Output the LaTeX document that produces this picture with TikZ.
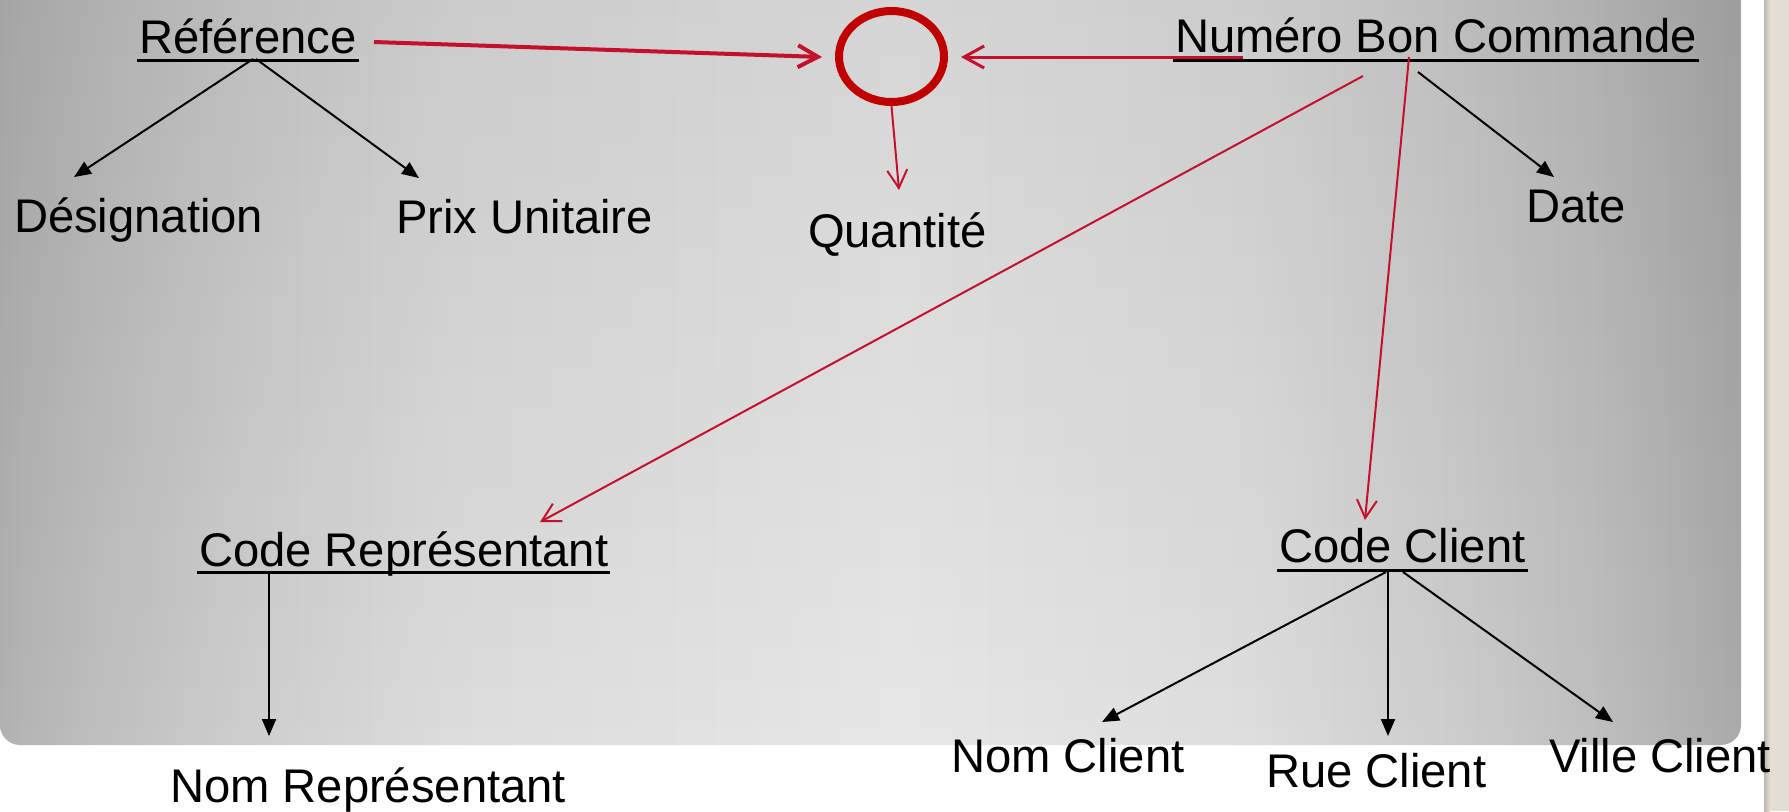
\documentclass[tikz,border=0pt]{standalone}
\usepackage{fontspec}
\setmainfont{Liberation Sans}
\usetikzlibrary{arrows.meta,shapes.geometric,calc,fadings}

% palette
\definecolor{circred}{HTML}{C00000}
\definecolor{linkred}{HTML}{C4102C}
\definecolor{stripbeige}{HTML}{E3DDD3}
\definecolor{stripshadow}{HTML}{BDB7AD}
\definecolor{panelA}{HTML}{B2B2B2}
\definecolor{panelB}{HTML}{BFBFBF}
\definecolor{panelC}{HTML}{CECECE}
\definecolor{panelD}{HTML}{DCDCDC}
\definecolor{panelE}{HTML}{E7E7E7}
\definecolor{panelF}{HTML}{DDDDDD}
\definecolor{panelG}{HTML}{CDCDCD}
\definecolor{panelH}{HTML}{BEBEBE}
\definecolor{panelI}{HTML}{AAAAAA}

% light centre, darker left and right borders of the slide panel
\pgfdeclarehorizontalshading{panelglow}{100bp}{%
  color(0bp)=(panelA); color(25bp)=(panelA); color(27.87bp)=(panelB);
  color(32.18bp)=(panelC); color(37.92bp)=(panelD); color(50.85bp)=(panelE);
  color(60.9bp)=(panelF); color(66.64bp)=(panelG); color(70.95bp)=(panelH);
  color(75bp)=(panelI); color(100bp)=(panelI)}
\tikzfading[name=topdarken, top color=transparent!0, bottom color=transparent!100]

\tikzset{
  lbl/.style={anchor=base west, inner sep=0pt, outer sep=0pt,
    font=\fontsize{23.6pt}{28pt}\selectfont},
  uline/.style={line width=1.5pt},
  blk/.style={line width=1pt, -{Triangle[length=8.5pt,width=7pt]}},
  redthin/.style={linkred, line width=1pt, -{Straight Barb[length=9pt,width=10pt]}},
  redthick/.style={linkred, line width=2pt, -{Straight Barb[length=10pt,width=11pt]}},
  redmid/.style={linkred, line width=1.5pt, -{Straight Barb[length=10pt,width=11pt]}},
}

\begin{document}
\begin{tikzpicture}[x=0.5pt, y=-0.5pt]
  \useasboundingbox (0,0) rectangle (1789,811);
  \fill[white] (0,0) rectangle (1789,811);

  % slide panel
  \begin{scope}
    \clip[rounded corners=10pt] (0,-40) rectangle (1741,745);
    \shade[shading=panelglow] (0,-40) rectangle (1741,745);
    \fill[black, opacity=0.08, path fading=topdarken] (0,-40) rectangle (1741,745);
  \end{scope}

  % side strip
  \fill[stripbeige] (1764,0) rectangle (1789,811);
  \shade[left color=stripshadow, right color=stripbeige] (1764,0) rectangle (1770,811);

  % attributes
  \node[lbl] (ref)  at (139,53)   {Référence};
  \node[lbl] (des)  at (14,232)   {Désignation};
  \node[lbl] (prix) at (396,233)  {Prix Unitaire};
  \node[lbl] (qte)  at (808,247)  {Quantité};
  \node[lbl] (nbc)  at (1175,52)  {Numéro Bon Commande};
  \node[lbl] (date) at (1526,222) {Date};
  \node[lbl] (crep) at (199,566)  {Code Représentant};
  \node[lbl] (cli)  at (1279,562) {Code Client};
  \node[lbl] (nrep) at (170,802)  {Nom Représentant};
  \node[lbl] (ncli) at (951,772)  {Nom Client};
  \node[lbl] (rcli) at (1266,787) {Rue Client};
  \node[lbl] (vcli) at (1549,772) {Ville Client};

  % identifiers are underlined
  \foreach \k/\d in {ref/7.5, nbc/8, crep/6.5, cli/8}
    \draw[uline] ($(\k.base west)+(-2,\d)$) -- ($(\k.base east)+(2,\d)$);

  % association circle
  \node[ellipse, draw=circred, line width=4pt, minimum width=52.5pt,
        minimum height=45.5pt, inner sep=0pt] (assoc) at (891.5,56.5) {};

  % functional dependencies
  \draw[blk] ($(ref.base west)+(114,6)$)  -- ($(des.base west)+(60,-55)$);
  \draw[blk] ($(ref.base west)+(117,6)$)  -- ($(prix.base west)+(23,-55)$);
  \draw[blk] ($(nbc.base west)+(243,20)$) -- ($(date.base west)+(28,-45)$);
  \draw[blk] ($(crep.base west)+(70,8)$)  -- ($(nrep.base west)+(99,-66)$);
  \draw[blk] ($(cli.base west)+(107,10)$) -- ($(ncli.base west)+(151,-50)$);
  \draw[blk] ($(cli.base west)+(109,10)$) -- ($(rcli.base west)+(122,-51)$);
  \draw[blk] ($(cli.base west)+(124,10)$) -- ($(vcli.base west)+(64,-50)$);

  \draw[redthick] ($(ref.base west)+(235,-11)$) -- ($(assoc.west)+(-13,0.5)$);
  \draw[redmid]   ($(nbc.base west)+(68,5)$)    -- ($(assoc.east)+(13,0.5)$);
  \draw[redthin]  (assoc.south) -- ($(qte.base west)+(91,-57)$);
  \draw[redthin]  ($(nbc.base west)+(188,24)$)  -- ($(crep.base west)+(341,-44)$);
  \draw[redthin]  ($(nbc.base west)+(234,5)$)   -- ($(cli.base west)+(86,-42)$);
\end{tikzpicture}
\end{document}
